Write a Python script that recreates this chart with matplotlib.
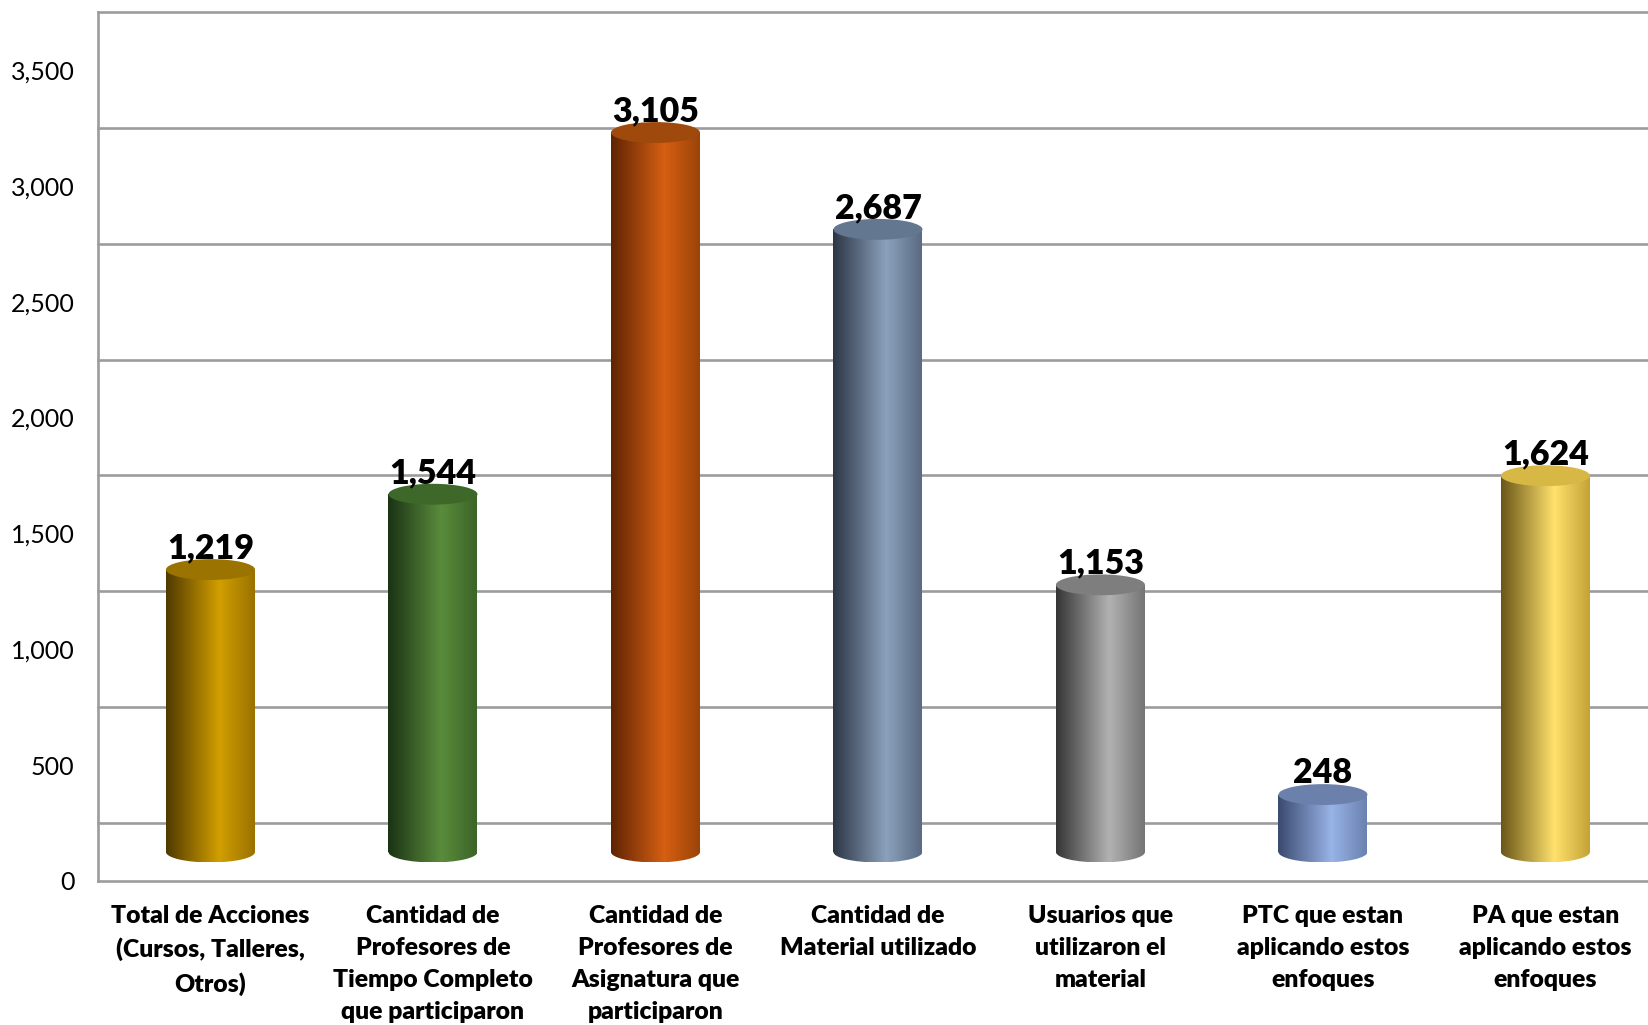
import numpy as np
import matplotlib
matplotlib.use("Agg")
import matplotlib.pyplot as plt
from matplotlib.patches import Ellipse, Rectangle
from matplotlib.colors import LinearSegmentedColormap

categories = [
    "Total de Acciones\n(Cursos, Talleres,\nOtros)",
    "Cantidad de\nProfesores de\nTiempo Completo\nque participaron",
    "Cantidad de\nProfesores de\nAsignatura que\nparticiparon",
    "Cantidad de\nMaterial utilizado",
    "Usuarios que\nutilizaron el\nmaterial",
    "PTC que estan\naplicando estos\nenfoques",
    "PA que estan\naplicando estos\nenfoques",
]
values = [1219, 1544, 3105, 2687, 1153, 248, 1624]
y_ticks = [0, 500, 1000, 1500, 2000, 2500, 3000, 3500]

# side shading of each cylinder: left edge, highlight, right edge, top cap
shades = [
    ("#4f3a00", "#d29e00", "#9a7200", "#9a7300"),
    ("#1b3315", "#5a8c3c", "#3b6428", "#3d6829"),
    ("#5e2404", "#d65f12", "#9a4408", "#a0490c"),
    ("#2c3645", "#8ba1bc", "#5a6b83", "#637791"),
    ("#353535", "#b2b2b2", "#747474", "#7e7e7e"),
    ("#3a4a70", "#98b3e6", "#6a82b0", "#6b81ac"),
    ("#6a5618", "#ffe16c", "#c4a336", "#d8b845"),
]

plt.rcParams["font.family"] = ["Lato", "DejaVu Sans"]

fig = plt.figure(figsize=(16.48, 10.25), dpi=100)
ax = fig.add_axes([98 / 1648, 144 / 1025, 1550 / 1648, 869 / 1025])

depth = 125      # half depth of the 3d box, in data units
bar_w = 0.4
cap_h = 45       # semi-height of the cylinder ellipses, data units
x0, x1 = -0.5056, 6.461

# back wall gridlines
for t in y_ticks:
    ax.axhline(t + depth, color="#9c9c9c", lw=1.9, zorder=1, clip_on=False)

grad = np.linspace(0, 1, 256).reshape(1, -1)
for i, (v, sh) in enumerate(zip(values, shades)):
    cmap = LinearSegmentedColormap.from_list(
        "c%d" % i, [(0, sh[0]), (0.6, sh[1]), (1, sh[2])])
    left = i - bar_w / 2
    for clip in (Rectangle((left, 0), bar_w, v, transform=ax.transData),
                 Ellipse((i, 0), bar_w, 2 * cap_h, transform=ax.transData)):
        im = ax.imshow(grad, cmap=cmap, aspect="auto", zorder=3,
                       extent=[left, left + bar_w, -cap_h, v],
                       interpolation="bilinear")
        im.set_clip_path(clip)
    ax.add_patch(Ellipse((i, v), bar_w, 2 * cap_h, facecolor=sh[3],
                         edgecolor="none", zorder=4))
    ax.text(i, v + cap_h + 4, f"{v:,}", ha="center", va="baseline",
            fontsize=24.5, fontweight="heavy", zorder=5)

ax.set_xlim(x0, x1)
ax.set_ylim(-depth, 3500 + depth)

ax.set_yticks([t - depth for t in y_ticks])
ax.set_yticklabels([f"{t:,}" for t in y_ticks], fontsize=18)
ax.set_xticks(range(len(categories)))
ax.set_xticklabels(categories, fontsize=17.8, fontweight="heavy",
                   linespacing=1.56)
ax.tick_params(axis="both", length=0)
ax.tick_params(axis="y", pad=17)
ax.tick_params(axis="x", pad=17)

for side in ("top", "right"):
    ax.spines[side].set_visible(False)
for side in ("left", "bottom"):
    ax.spines[side].set_color("#9c9c9c")
    ax.spines[side].set_linewidth(1.9)

fig.savefig("out.png", dpi=100)
